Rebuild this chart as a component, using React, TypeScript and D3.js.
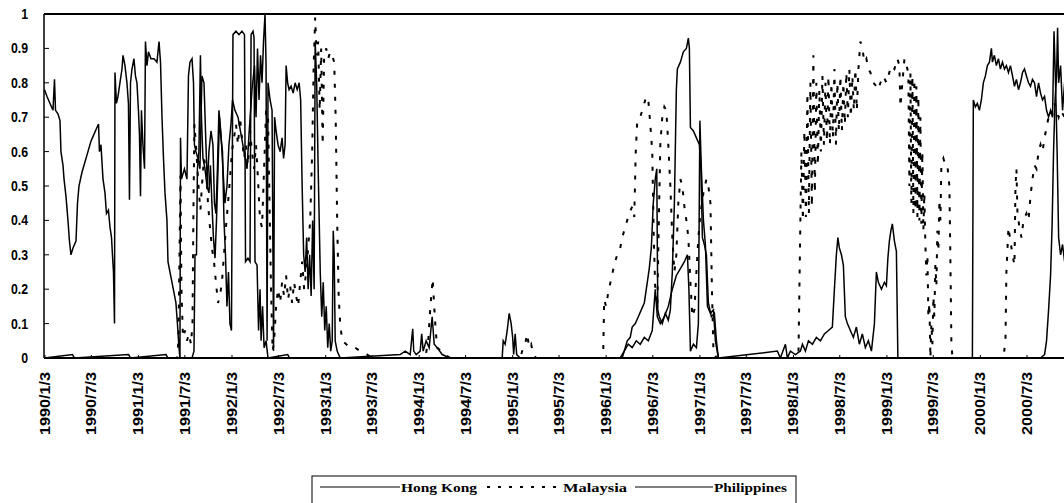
import React from "react";
import * as d3 from "d3";

// [decimal year, probability]
const hongKong: [number, number][] = [
  [1990.000,0.00],[1990.300,0.01],[1990.320,0.00],[1990.900,0.01],[1990.920,0.00],[1991.300,0.01],[1991.320,0.00],
  [1991.578,0.00],[1991.599,0.02],[1991.610,0.30],[1991.626,0.30],[1991.636,0.55],[1991.652,0.60],[1991.668,0.88],
  [1991.679,0.70],[1991.695,0.58],[1991.717,0.55],[1991.738,0.50],[1991.759,0.48],[1991.775,0.56],[1991.791,0.45],
  [1991.807,0.35],[1991.824,0.29],[1991.840,0.40],[1991.856,0.55],[1991.872,0.70],[1991.888,0.64],[1991.904,0.60],
  [1991.920,0.40],[1991.936,0.30],[1991.952,0.15],[1991.968,0.25],[1991.984,0.10],[1992.000,0.08],[1992.016,0.94],
  [1992.048,0.95],[1992.080,0.94],[1992.112,0.95],[1992.139,0.94],[1992.150,0.28],[1992.176,0.29],[1992.198,0.28],
  [1992.209,0.94],[1992.230,0.95],[1992.241,0.93],[1992.251,0.28],[1992.273,0.27],[1992.289,0.08],[1992.305,0.20],
  [1992.316,0.05],[1992.332,0.15],[1992.348,0.03],[1992.369,0.05],[1992.390,0.00],[1992.600,0.01],[1992.620,0.00],
  [1994.893,0.00],[1994.904,0.05],[1994.925,0.04],[1994.947,0.08],[1994.968,0.13],[1994.989,0.10],[1995.005,0.06],
  [1995.016,0.01],[1995.032,0.07],[1995.048,0.01],[1995.086,0.00],[1996.176,0.00],[1996.198,0.02],[1996.230,0.05],
  [1996.262,0.06],[1996.283,0.09],[1996.316,0.10],[1996.348,0.12],[1996.380,0.14],[1996.412,0.16],[1996.444,0.22],
  [1996.465,0.26],[1996.487,0.32],[1996.508,0.45],[1996.529,0.52],[1996.545,0.55],[1996.556,0.14],[1996.572,0.12],
  [1996.604,0.10],[1996.636,0.13],[1996.668,0.11],[1996.690,0.14],[1996.711,0.25],[1996.733,0.45],[1996.754,0.78],
  [1996.765,0.84],[1996.797,0.86],[1996.829,0.89],[1996.861,0.90],[1996.882,0.93],[1996.893,0.90],[1996.904,0.67],
  [1996.936,0.66],[1996.968,0.64],[1997.000,0.62],[1997.016,0.55],[1997.032,0.35],[1997.053,0.33],[1997.075,0.30],
  [1997.096,0.16],[1997.128,0.12],[1997.160,0.13],[1997.182,0.05],[1997.203,0.00],[1999.920,0.00],[1999.930,0.75],
  [1999.952,0.73],[1999.973,0.74],[1999.995,0.72],[2000.016,0.75],[2000.037,0.80],[2000.059,0.82],[2000.080,0.85],
  [2000.102,0.86],[2000.123,0.90],[2000.134,0.86],[2000.155,0.88],[2000.176,0.85],[2000.198,0.87],[2000.219,0.84],
  [2000.241,0.86],[2000.262,0.84],[2000.283,0.85],[2000.305,0.83],[2000.326,0.85],[2000.348,0.82],[2000.369,0.79],
  [2000.390,0.81],[2000.412,0.78],[2000.433,0.80],[2000.455,0.83],[2000.476,0.84],[2000.497,0.82],[2000.519,0.80],
  [2000.540,0.79],[2000.561,0.81],[2000.583,0.80],[2000.604,0.76],[2000.626,0.80],[2000.647,0.77],[2000.668,0.75],
  [2000.690,0.76],[2000.711,0.72],[2000.733,0.70],[2000.754,0.72],[2000.775,0.70],[2000.791,0.95],[2000.807,0.80],
  [2000.824,0.60],[2000.840,0.35],[2000.861,0.30],[2000.882,0.33],[2000.904,0.28],
];

const malaysia: [number, number][] = [
  [1990.000,0.00],[1991.417,0.00],[1991.433,0.05],[1991.444,0.30],[1991.455,0.53],[1991.465,0.20],[1991.481,0.06],
  [1991.503,0.08],[1991.524,0.05],[1991.545,0.07],[1991.567,0.04],[1991.583,0.10],[1991.594,0.45],[1991.604,0.68],
  [1991.620,0.62],[1991.636,0.55],[1991.652,0.48],[1991.668,0.43],[1991.684,0.50],[1991.706,0.58],[1991.727,0.55],
  [1991.749,0.45],[1991.770,0.38],[1991.791,0.32],[1991.813,0.28],[1991.834,0.22],[1991.856,0.16],[1991.877,0.18],
  [1991.898,0.22],[1991.920,0.30],[1991.941,0.38],[1991.963,0.45],[1991.984,0.52],[1992.005,0.60],[1992.027,0.64],
  [1992.048,0.68],[1992.070,0.62],[1992.091,0.70],[1992.112,0.64],[1992.134,0.58],[1992.155,0.62],[1992.176,0.56],
  [1992.198,0.66],[1992.219,0.60],[1992.241,0.55],[1992.262,0.62],[1992.283,0.52],[1992.305,0.40],[1992.326,0.38],
  [1992.348,0.55],[1992.369,0.72],[1992.390,0.70],[1992.406,0.45],[1992.422,0.20],[1992.439,0.02],[1992.455,0.05],
  [1992.476,0.15],[1992.497,0.20],[1992.519,0.16],[1992.540,0.22],[1992.561,0.18],[1992.583,0.24],[1992.604,0.17],
  [1992.626,0.21],[1992.647,0.16],[1992.668,0.22],[1992.690,0.18],[1992.711,0.15],[1992.733,0.22],[1992.754,0.28],
  [1992.775,0.20],[1992.797,0.25],[1992.818,0.32],[1992.840,0.40],[1992.861,0.60],[1992.877,0.85],[1992.893,0.99],
  [1992.909,0.88],[1992.925,0.92],[1992.941,0.72],[1992.957,0.90],[1992.973,0.62],[1992.989,0.88],[1993.011,0.90],
  [1993.032,0.87],[1993.053,0.89],[1993.075,0.88],[1993.096,0.86],[1993.112,0.70],[1993.128,0.40],[1993.144,0.18],
  [1993.160,0.10],[1993.182,0.05],[1993.225,0.04],[1993.267,0.03],[1993.321,0.03],[1993.374,0.02],[1993.449,0.01],
  [1993.503,0.00],[1994.070,0.00],[1994.102,0.05],[1994.118,0.12],[1994.134,0.18],[1994.150,0.23],[1994.166,0.15],
  [1994.182,0.08],[1994.198,0.03],[1994.283,0.01],[1994.337,0.00],[1995.086,0.00],[1995.118,0.03],[1995.139,0.04],
  [1995.160,0.07],[1995.182,0.03],[1995.203,0.04],[1995.225,0.01],[1995.257,0.00],[1995.973,0.00],[1995.984,0.17],
  [1996.005,0.15],[1996.027,0.19],[1996.059,0.23],[1996.091,0.27],[1996.123,0.30],[1996.155,0.32],[1996.187,0.36],
  [1996.219,0.39],[1996.251,0.42],[1996.283,0.44],[1996.305,0.41],[1996.321,0.60],[1996.337,0.69],[1996.369,0.70],
  [1996.401,0.73],[1996.433,0.76],[1996.455,0.75],[1996.476,0.68],[1996.497,0.60],[1996.513,0.35],[1996.529,0.20],
  [1996.551,0.15],[1996.567,0.40],[1996.583,0.62],[1996.604,0.70],[1996.626,0.73],[1996.647,0.72],[1996.668,0.62],
  [1996.690,0.50],[1996.711,0.35],[1996.733,0.25],[1996.754,0.30],[1996.775,0.45],[1996.797,0.52],[1996.818,0.50],
  [1996.840,0.44],[1996.861,0.40],[1996.882,0.35],[1996.904,0.22],[1996.925,0.12],[1996.947,0.14],[1996.968,0.25],
  [1996.989,0.35],[1997.011,0.42],[1997.043,0.48],[1997.075,0.52],[1997.096,0.50],[1997.118,0.45],[1997.134,0.20],
  [1997.150,0.02],[1997.182,0.00],[1998.059,0.00],[1998.080,0.40],
  [1998.091,0.60],[1998.107,0.40],[1998.123,0.66],[1998.139,0.41],[1998.155,0.77],[1998.171,0.42],[1998.187,0.80],
  [1998.203,0.44],[1998.219,0.88],[1998.235,0.48],[1998.251,0.80],[1998.267,0.56],[1998.283,0.78],[1998.299,0.60],
  [1998.316,0.82],[1998.332,0.62],[1998.348,0.80],[1998.364,0.63],[1998.380,0.82],[1998.396,0.62],[1998.412,0.80],
  [1998.428,0.64],[1998.444,0.84],[1998.460,0.62],[1998.476,0.80],[1998.492,0.66],[1998.508,0.82],[1998.524,0.66],
  [1998.540,0.80],[1998.556,0.68],[1998.572,0.83],[1998.588,0.70],[1998.604,0.84],[1998.620,0.70],[1998.636,0.82],
  [1998.652,0.72],[1998.668,0.84],[1998.684,0.72],[1998.701,0.84],
  [1998.722,0.92],[1998.743,0.90],[1998.765,0.86],[1998.786,0.87],[1998.807,0.84],[1998.829,0.83],[1998.861,0.80],
  [1998.893,0.79],[1998.914,0.78],[1998.936,0.80],[1998.968,0.82],[1999.000,0.80],[1999.021,0.82],[1999.053,0.85],
  [1999.086,0.84],[1999.118,0.87],[1999.139,0.85],[1999.150,0.73],[1999.171,0.80],[1999.193,0.87],[1999.225,0.84],
  [1999.235,0.82],[1999.246,0.50],[1999.257,0.83],[1999.267,0.45],[1999.278,0.82],[1999.289,0.42],[1999.299,0.81],
  [1999.310,0.43],[1999.321,0.79],[1999.332,0.41],[1999.342,0.76],[1999.353,0.40],[1999.364,0.70],[1999.374,0.39],
  [1999.385,0.60],[1999.396,0.37],[1999.406,0.48],[1999.417,0.33],[1999.428,0.24],[1999.439,0.30],[1999.449,0.12],
  [1999.460,0.16],[1999.471,0.00],
  [1999.481,0.10],[1999.492,0.04],[1999.503,0.18],[1999.513,0.12],[1999.524,0.27],[1999.535,0.21],[1999.545,0.37],
  [1999.556,0.31],[1999.567,0.46],[1999.578,0.40],[1999.588,0.56],[1999.610,0.58],[1999.631,0.56],[1999.652,0.56],
  [1999.674,0.50],[1999.684,0.30],[1999.695,0.05],[1999.706,0.00],
  [2000.251,0.00],[2000.273,0.05],[2000.283,0.25],[2000.305,0.38],[2000.326,0.34],[2000.348,0.30],[2000.369,0.27],
  [2000.380,0.50],[2000.390,0.55],[2000.401,0.42],[2000.422,0.38],[2000.444,0.35],[2000.465,0.40],[2000.497,0.42],
  [2000.519,0.40],[2000.540,0.47],[2000.561,0.52],[2000.583,0.56],[2000.604,0.55],[2000.626,0.60],[2000.647,0.62],
  [2000.668,0.60],[2000.690,0.64],[2000.711,0.67],[2000.733,0.70],[2000.754,0.72],[2000.775,0.71],[2000.797,0.74],
  [2000.818,0.72],[2000.840,0.70],[2000.861,0.72],[2000.904,0.70],
];

const philippines: [number, number][] = [
  [1990.000,0.78],[1990.027,0.76],[1990.059,0.74],[1990.091,0.72],[1990.107,0.81],[1990.118,0.72],[1990.144,0.71],
  [1990.166,0.69],[1990.176,0.60],[1990.198,0.56],[1990.209,0.52],[1990.230,0.47],[1990.251,0.40],[1990.267,0.34],
  [1990.283,0.30],[1990.305,0.32],[1990.337,0.34],[1990.353,0.45],[1990.369,0.50],[1990.401,0.54],[1990.433,0.57],
  [1990.465,0.60],[1990.497,0.63],[1990.529,0.65],[1990.561,0.67],[1990.578,0.68],[1990.588,0.60],[1990.604,0.62],
  [1990.626,0.52],[1990.647,0.48],[1990.663,0.42],[1990.684,0.43],[1990.701,0.38],[1990.717,0.35],[1990.727,0.30],
  [1990.738,0.25],[1990.749,0.10],[1990.754,0.83],[1990.770,0.74],[1990.786,0.76],[1990.807,0.80],[1990.829,0.84],
  [1990.840,0.88],[1990.861,0.85],[1990.882,0.80],[1990.898,0.74],[1990.909,0.46],[1990.920,0.80],[1990.936,0.84],
  [1990.957,0.87],[1990.973,0.82],[1990.989,0.80],[1991.005,0.72],[1991.016,0.65],[1991.027,0.47],[1991.037,0.72],
  [1991.053,0.62],[1991.070,0.55],[1991.080,0.92],[1991.096,0.85],[1991.112,0.89],[1991.139,0.87],[1991.171,0.87],
  [1991.203,0.86],[1991.225,0.92],[1991.241,0.86],[1991.257,0.70],[1991.273,0.58],[1991.289,0.48],[1991.310,0.40],
  [1991.321,0.28],[1991.342,0.25],[1991.364,0.22],[1991.385,0.19],[1991.406,0.16],[1991.422,0.10],[1991.439,0.03],
  [1991.449,0.00],[1991.455,0.64],[1991.465,0.52],[1991.497,0.55],[1991.524,0.52],[1991.540,0.82],[1991.556,0.86],
  [1991.578,0.87],[1991.594,0.80],[1991.604,0.62],[1991.620,0.60],[1991.642,0.58],[1991.663,0.55],[1991.684,0.82],
  [1991.706,0.80],[1991.727,0.62],[1991.743,0.50],[1991.759,0.60],[1991.781,0.66],[1991.802,0.62],[1991.818,0.45],
  [1991.834,0.42],[1991.850,0.55],[1991.866,0.72],[1991.888,0.65],[1991.909,0.55],[1991.930,0.45],[1991.952,0.50],
  [1991.973,0.62],[1991.995,0.68],[1992.011,0.75],[1992.037,0.72],[1992.070,0.70],[1992.102,0.65],[1992.134,0.60],
  [1992.166,0.55],[1992.187,0.65],[1992.219,0.78],[1992.246,0.85],[1992.262,0.70],[1992.278,0.90],[1992.294,0.75],
  [1992.310,0.88],[1992.326,0.80],[1992.342,0.92],[1992.358,1.00],[1992.369,0.85],[1992.380,0.05],[1992.390,0.80],
  [1992.412,0.75],[1992.433,0.72],[1992.449,0.02],[1992.460,0.70],[1992.476,0.66],[1992.497,0.62],[1992.519,0.60],
  [1992.540,0.64],[1992.556,0.58],[1992.572,0.62],[1992.583,0.85],[1992.599,0.80],[1992.615,0.78],[1992.636,0.79],
  [1992.658,0.77],[1992.679,0.80],[1992.701,0.78],[1992.722,0.80],[1992.738,0.75],[1992.754,0.50],[1992.770,0.30],
  [1992.786,0.25],[1992.802,0.35],[1992.818,0.20],[1992.834,0.30],[1992.850,0.18],[1992.866,0.40],[1992.882,0.20],
  [1992.893,0.92],[1992.909,0.80],[1992.925,0.55],[1992.936,0.40],[1992.947,0.25],[1992.963,0.12],[1992.979,0.22],
  [1992.995,0.08],[1993.011,0.15],[1993.027,0.03],[1993.043,0.10],[1993.059,0.02],[1993.075,0.05],[1993.086,0.37],
  [1993.096,0.30],[1993.107,0.05],[1993.128,0.02],[1993.160,0.00],[1993.802,0.01],[1993.856,0.02],[1993.909,0.01],
  [1993.936,0.085],[1993.947,0.02],[1993.973,0.01],[1994.016,0.02],[1994.032,0.07],[1994.048,0.02],[1994.080,0.05],
  [1994.112,0.03],[1994.144,0.12],[1994.166,0.04],[1994.198,0.03],[1994.251,0.01],[1994.337,0.00],[1996.155,0.00],
  [1996.198,0.02],[1996.241,0.04],[1996.283,0.03],[1996.326,0.05],[1996.369,0.04],[1996.412,0.06],[1996.455,0.05],
  [1996.497,0.08],[1996.529,0.20],[1996.551,0.12],[1996.583,0.10],[1996.626,0.12],[1996.668,0.15],[1996.711,0.20],
  [1996.754,0.24],[1996.797,0.26],[1996.840,0.28],[1996.872,0.30],[1996.888,0.20],[1996.904,0.02],[1996.936,0.04],
  [1996.968,0.03],[1996.989,0.10],[1997.005,0.69],[1997.021,0.55],[1997.043,0.40],[1997.064,0.33],[1997.086,0.15],
  [1997.118,0.13],[1997.150,0.14],[1997.171,0.05],[1997.203,0.00],[1997.834,0.02],[1997.866,0.00],[1997.920,0.04],
  [1997.941,0.00],[1997.973,0.02],[1998.027,0.01],[1998.080,0.02],[1998.102,0.04],[1998.134,0.02],[1998.166,0.05],
  [1998.209,0.04],[1998.251,0.06],[1998.294,0.05],[1998.337,0.07],[1998.380,0.08],[1998.422,0.09],[1998.444,0.20],
  [1998.465,0.30],[1998.481,0.35],[1998.497,0.32],[1998.519,0.30],[1998.540,0.27],[1998.561,0.12],[1998.583,0.10],
  [1998.615,0.08],[1998.647,0.06],[1998.679,0.09],[1998.711,0.04],[1998.743,0.07],[1998.775,0.03],[1998.807,0.05],
  [1998.840,0.02],[1998.872,0.10],[1998.893,0.25],[1998.914,0.22],[1998.947,0.20],[1998.979,0.22],[1999.000,0.21],
  [1999.016,0.29],[1999.032,0.34],[1999.048,0.37],[1999.064,0.39],[1999.086,0.34],[1999.107,0.31],[1999.123,0.00],
  [2000.647,0.00],[2000.690,0.01],[2000.711,0.05],[2000.733,0.14],[2000.754,0.24],[2000.770,0.38],[2000.786,0.60],
  [2000.802,0.75],[2000.818,0.82],[2000.829,0.96],[2000.840,0.80],[2000.861,0.85],[2000.882,0.72],[2000.904,0.80],
];

const yTicks = [0, 0.1, 0.2, 0.3, 0.4, 0.5, 0.6, 0.7, 0.8, 0.9, 1];
const tickYears = d3.range(1990, 2001);
const tickMonths = [0, 6];
const legendNames = ["Hong Kong", "Malaysia", "Philippines"];

// decimal year -> Date
function toDate(t: number) {
  const yr = Math.floor(t);
  const a = Date.UTC(yr, 0, 1);
  const b = Date.UTC(yr + 1, 0, 1);
  return new Date(a + (t - yr) * (b - a));
}

const W = 1064;
const H = 503;
const left = 44;
const top = 14;
const bottom = 358;

export default function App() {
  const x = d3
    .scaleUtc()
    .domain([new Date(Date.UTC(1990, 0, 3)), new Date(Date.UTC(2000, 6, 3))])
    .range([45, 1027]);
  const y = d3.scaleLinear().domain([0, 1]).range([bottom, top]);

  const line = d3
    .line<[number, number]>()
    .x((d) => x(toDate(d[0])))
    .y((d) => y(d[1]));

  const tickDates: Date[] = [];
  tickYears.forEach((yr) => {
    tickMonths.forEach((m) => {
      tickDates.push(new Date(Date.UTC(yr, m, 3)));
    });
  });
  const fmt = d3.utcFormat("%Y/%-m/%-d");

  const axisFont = "'Liberation Sans', Arial, sans-serif";
  const serif = "'Liberation Serif', 'Times New Roman', serif";

  // legend layout
  const legY = 487;
  const legendItems = [
    { name: legendNames[0], x1: 320, x2: 400, tx: 401, tw: 76, dash: undefined as string | undefined },
    { name: legendNames[1], x1: 487, x2: 561, tx: 563, tw: 64, dash: "3,8" },
    { name: legendNames[2], x1: 635, x2: 713, tx: 714, tw: 73, dash: undefined },
  ];

  return (
    <svg
      width={W}
      height={H}
      style={{ position: "absolute", left: 0, top: 0, background: "#fff" }}
    >
      <defs>
        <clipPath id="plot">
          <rect x={left} y={top - 2} width={W - left} height={bottom - top + 2} />
        </clipPath>
      </defs>
      <rect x={0} y={0} width={W} height={H} fill="#fff" />

      <g clipPath="url(#plot)" fill="none" stroke="#000">
        <path d={line(philippines) || ""} strokeWidth={1.5} />
        <path d={line(hongKong) || ""} strokeWidth={1.5} />
        <path d={line(malaysia) || ""} strokeWidth={2} strokeDasharray="4,9" />
      </g>

      {/* frame */}
      <line x1={left} x2={W} y1={top} y2={top} stroke="#000" strokeWidth={2} />
      <line x1={left} x2={left} y1={top} y2={bottom} stroke="#000" strokeWidth={1.5} />
      <line x1={left} x2={W} y1={bottom} y2={bottom} stroke="#000" strokeWidth={2} />

      {/* y axis */}
      {yTicks.map((v) => (
        <g key={v}>
          <line x1={left} x2={left + 5} y1={y(v)} y2={y(v)} stroke="#000" strokeWidth={1} />
          <text
            transform={`translate(28,${y(v) + 5}) scale(0.82,1)`}
            textAnchor="end"
            fontFamily={axisFont}
            fontWeight="bold"
            fontSize={15}
          >
            {String(v)}
          </text>
        </g>
      ))}

      {/* x axis */}
      {tickDates.map((d) => (
        <g key={d.getTime()}>
          <line x1={x(d)} x2={x(d)} y1={bottom} y2={bottom - 3} stroke="#000" strokeWidth={1} />
          <text
            transform={`translate(${x(d) + 5},372) rotate(-90)`}
            textAnchor="end"
            fontFamily={axisFont}
            fontWeight="bold"
            fontSize={15}
            textLength={63}
            lengthAdjust="spacingAndGlyphs"
          >
            {fmt(d)}
          </text>
        </g>
      ))}

      {/* legend */}
      <rect x={312} y={476} width={484} height={40} fill="none" stroke="#000" strokeWidth={1} />
      {legendItems.map((it) => (
        <g key={it.name}>
          <line
            x1={it.x1}
            x2={it.x2}
            y1={legY}
            y2={legY}
            stroke="#000"
            strokeWidth={it.dash ? 2 : 1.2}
            strokeDasharray={it.dash}
          />
          <text
            x={it.tx}
            y={492}
            fontFamily={serif}
            fontWeight="bold"
            fontSize={13}
            textLength={it.tw}
            lengthAdjust="spacingAndGlyphs"
          >
            {it.name}
          </text>
        </g>
      ))}
    </svg>
  );
}
